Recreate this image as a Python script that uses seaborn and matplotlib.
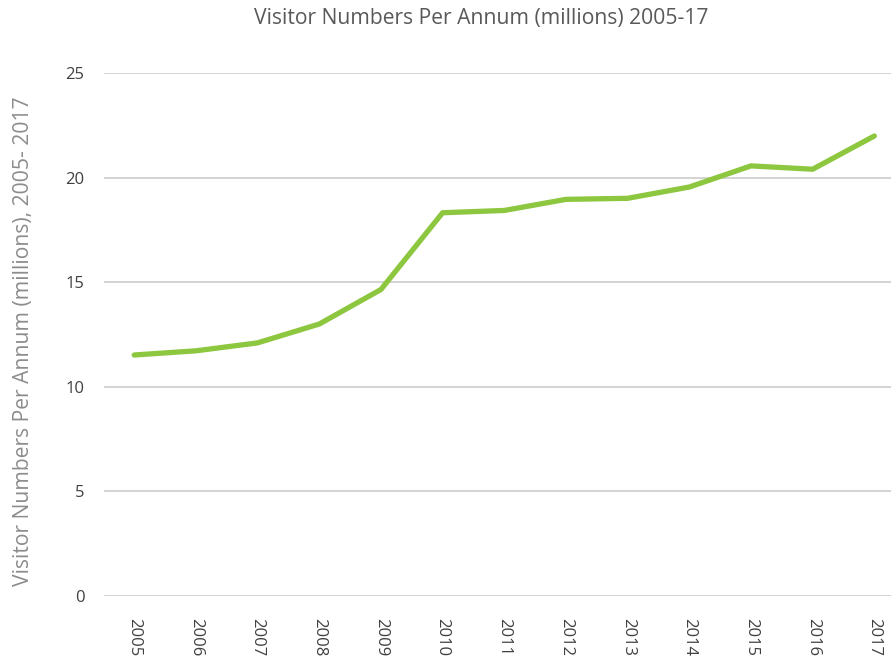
import numpy as np
import pandas as pd
import matplotlib
matplotlib.use("Agg")
import matplotlib.pyplot as plt
import seaborn as sns

# Data
years = [2005, 2006, 2007, 2008, 2009, 2010, 2011, 2012, 2013, 2014, 2015, 2016, 2017]
visitors = [11.52, 11.72, 12.1, 13.0, 14.65, 18.32, 18.43, 18.96, 19.01, 19.55, 20.56, 20.40, 21.99]
y_ticks = [0, 5, 10, 15, 20, 25]

TITLE = "Visitor Numbers Per Annum (millions) 2005-17"
YLABEL = "Visitor Numbers Per Annum (millions), 2005- 2017"

sns.set_style("white")
plt.rcParams["font.family"] = ["Open Sans", "DejaVu Sans"]

df = pd.DataFrame({"year": years, "visitors": visitors})

fig = plt.figure(figsize=(8.91, 6.64), dpi=100)
ax = fig.add_axes([104 / 891, 68 / 664, 1 - 104 / 891, (596 - 73) / 664])

sns.lineplot(data=df, x="year", y="visitors", color="#8dc63f", linewidth=3.8,
             solid_capstyle="round", ax=ax)

ax.set_ylim(0, 25)
ax.set_xlim(2004.51, 2017.27)
ax.set_yticks(y_ticks)
ax.set_xticks(years)
ax.set_xticklabels([str(y) for y in years], rotation=270)
ax.yaxis.grid(True, color="#d0d0d0", linewidth=1.3)
ax.xaxis.grid(False)
ax.set_axisbelow(True)
for spine in ax.spines.values():
    spine.set_visible(False)

ax.tick_params(axis="both", length=0, labelsize=12, labelcolor="#404040")
ax.tick_params(axis="y", pad=14)
ax.tick_params(axis="x", pad=16)

ax.set_xlabel("")
ax.set_ylabel(YLABEL, fontsize=15.2, color="#8c8c8c")
ax.yaxis.set_label_coords(-0.089, 0.487)

fig.text(0.54, 0.972, TITLE, ha="center", va="center", fontsize=15.2,
         color="#595959")

fig.savefig("out.png", dpi=100)
plt.close(fig)
